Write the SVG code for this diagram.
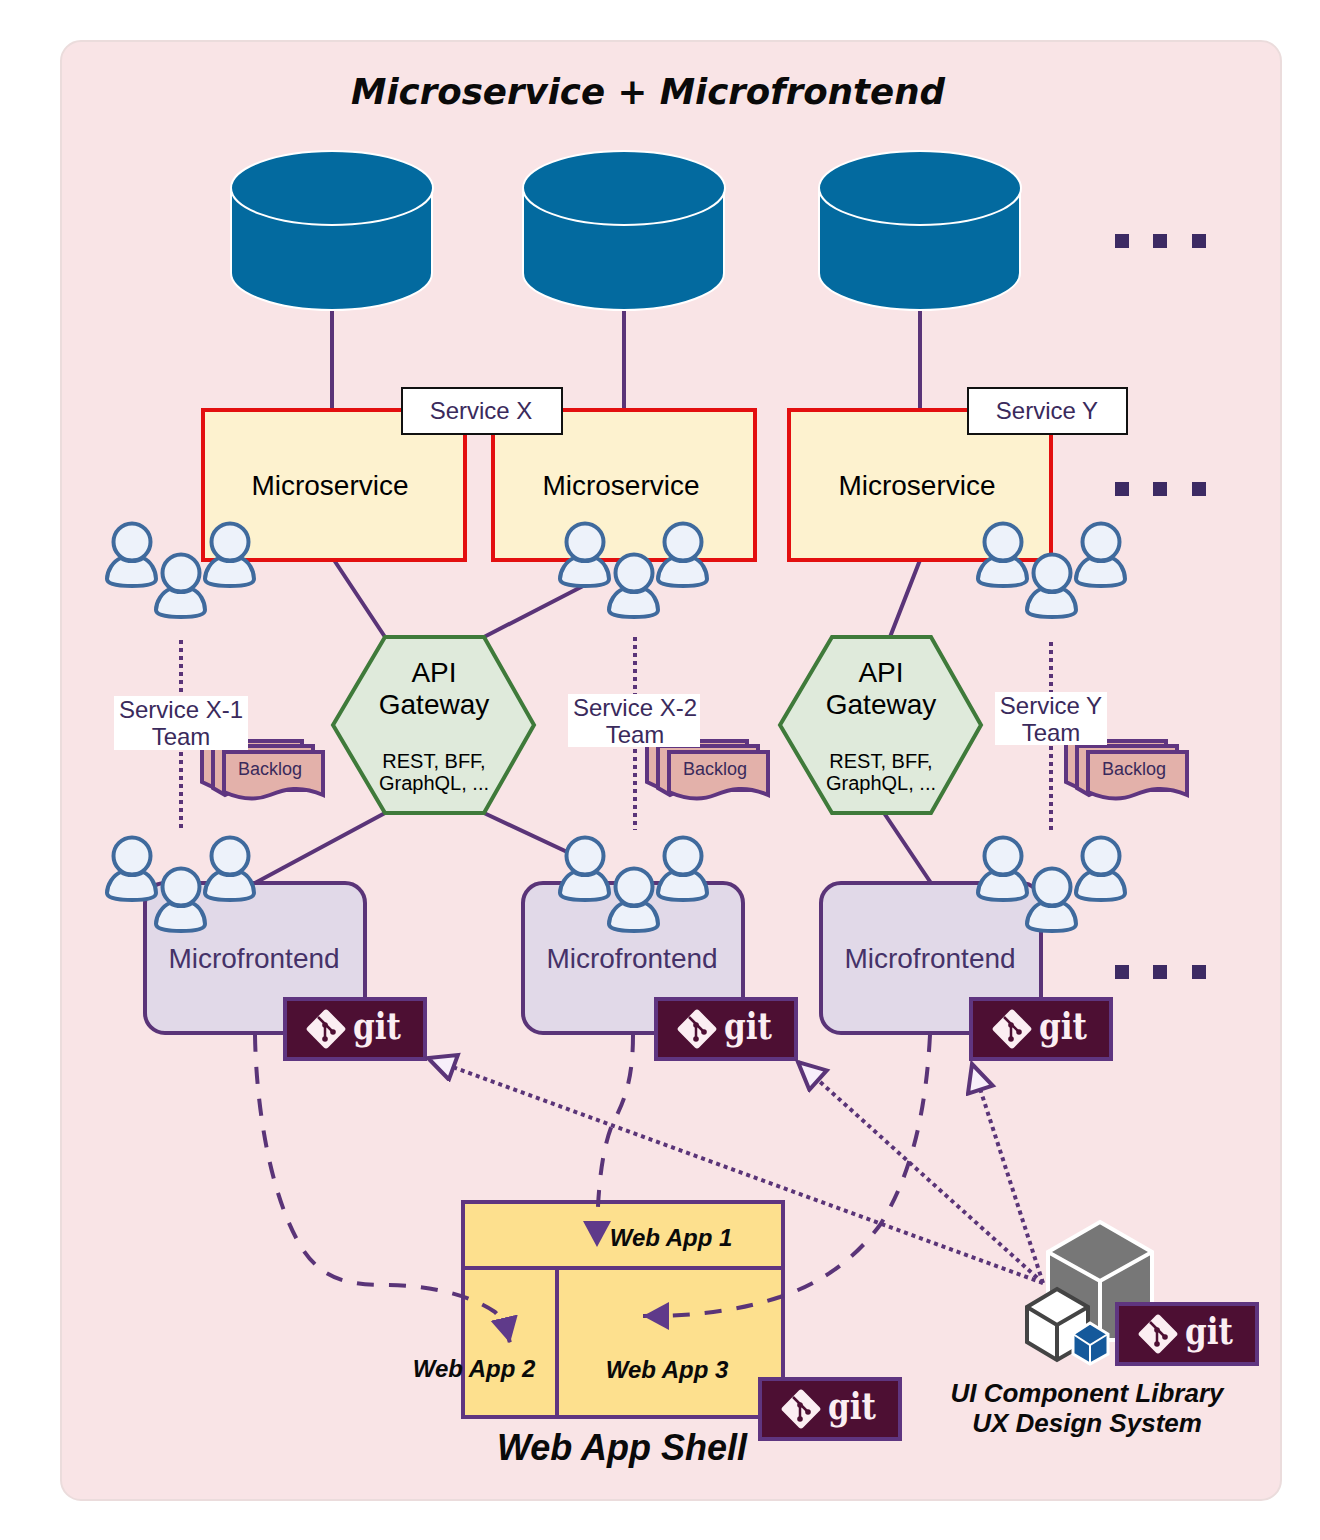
<svg xmlns="http://www.w3.org/2000/svg" xmlns:xlink="http://www.w3.org/1999/xlink" width="1320" height="1540" viewBox="0 0 1320 1540">
<style>
text{font-family:"Liberation Sans",Arial,sans-serif;text-anchor:middle}
.link{fill:none;stroke:#5a3478;stroke-width:4}
.dash{fill:none;stroke:#5a3478;stroke-width:4;stroke-dasharray:17 15}
.dot{fill:none;stroke:#5a3478;stroke-width:4;stroke-dasharray:4 4}
.db{fill:#036a9f;stroke:#fff;stroke-width:2}
.ms{fill:#fdf2cf;stroke:#e30f0f;stroke-width:4}
.tag{fill:#fff;stroke:#111;stroke-width:2}
.hex{fill:#dfeadb;stroke:#3f7a3a;stroke-width:4}
.mf{fill:#e1d9e8;stroke:#5a3478;stroke-width:4}
.gitbox{fill:#4d0f33;stroke:#5f3580;stroke-width:4}
.gittext{font-family:"DejaVu Serif",serif;font-weight:700;font-size:37px;fill:#fbeef2;text-anchor:start}
.web{fill:#fde08e;stroke:#5f3580;stroke-width:4}
.bi{font-weight:700;font-style:italic;fill:#0a0a0a}
.sq{fill:#3d2a63}
.p{fill:#edf2fa;stroke:#3f6a9d;stroke-width:4}
.doc{fill:#e3b1aa;stroke:#5f3580;stroke-width:4}
</style>
<defs>
<marker id="solid" markerUnits="userSpaceOnUse" markerWidth="32" markerHeight="32" refX="26" refY="15" orient="auto"><path d="M0 1L26 15L0 29Z" fill="#5f3a8a"/></marker>
<marker id="open" markerUnits="userSpaceOnUse" markerWidth="36" markerHeight="36" refX="30" refY="15" orient="auto"><path d="M3 2L30 15L3 28Z" fill="#f7effa" stroke="#5a3478" stroke-width="4"/></marker>
<g id="person"><circle cx="0" cy="0" r="18.500" class="p"/><path class="p" d="M-11 16C-19 19-25 29-25 37C-25 43-10 44 0 44C10 44 24 43 24 37C24 29 19 19 11 16C5 20-5 20-11 16Z"/></g>
<g id="team"><use href="#person" x="0" y="0"/><use href="#person" x="98" y="0"/><use href="#person" x="49" y="31"/></g>
<g id="stack">
<path class="doc" d="M202 741H302V785H225L215 788L202 782Z"/><path class="doc" d="M213 746H313V790H236L225 795L213 788Z"/>
<path class="doc" d="M224 752H323V795C300 785 285 789 270 795C255 801 240 799 224 792Z"/>
</g>
<g id="logo"><rect x="-14.500" y="-14.500" width="29" height="29" rx="3" transform="rotate(45)" fill="#fbeef2"/><path d="M-8 -12L7 3M-1 -4V10" fill="none" stroke="#4d0f33" stroke-width="2.500"/><circle cx="-1" cy="-4" r="2.800" fill="#4d0f33"/><circle cx="7" cy="3" r="2.800" fill="#4d0f33"/><circle cx="-1" cy="10" r="2.800" fill="#4d0f33"/></g>
</defs>
<rect id="panel" x="61" y="41" width="1220" height="1459" rx="20" fill="#f9e4e6" stroke="#ebdcdc" stroke-width="2"/>
<text id="title" x="648" y="104" class="bi" style="font-family:'DejaVu Sans',sans-serif;font-size:36px" textLength="594" lengthAdjust="spacingAndGlyphs">Microservice + Microfrontend</text>

<g id="connectors-back">
<path class="link" d="M332 310V410M624 310V410M920 310V410"/>
<path class="link" d="M334 560L385 637M585 585L484 637M920 560L890 637M385 813L255 883M484 813L595 865M884 813L931 883"/>
<path class="dot" d="M181 640V832M635 637V830M1051 642V832"/>
</g>

<g id="db1"><path class="db" d="M231 188V273C231 293 276 310 332 310C387 310 432 293 432 273V188Z"/><ellipse class="db" cx="332" cy="188" rx="101" ry="37"/></g>
<g id="db2"><path class="db" d="M523 188V273C523 293 568 310 624 310C679 310 724 293 724 273V188Z"/><ellipse class="db" cx="624" cy="188" rx="101" ry="37"/></g>
<g id="db3"><path class="db" d="M819 188V273C819 293 864 310 920 310C975 310 1020 293 1020 273V188Z"/><ellipse class="db" cx="920" cy="188" rx="101" ry="37"/></g>

<g id="ms1"><rect class="ms" x="203" y="410" width="262" height="150"/><text x="330" y="495" font-size="28">Microservice</text></g>
<g id="ms2"><rect class="ms" x="493" y="410" width="262" height="150"/><text x="621" y="495" font-size="28">Microservice</text></g>
<g id="ms3"><rect class="ms" x="789" y="410" width="262" height="150"/><text x="917" y="495" font-size="28">Microservice</text></g>
<g id="tagX"><rect class="tag" x="402" y="388" width="160" height="46"/><text x="481" y="419" font-size="24" fill="#3a2a5c">Service X</text></g>
<g id="tagY"><rect class="tag" x="968" y="388" width="159" height="46"/><text x="1047" y="419" font-size="24" fill="#3a2a5c">Service Y</text></g>

<g id="gw1"><path class="hex" d="M385 637H484L534 725L484 813H385L333 725Z"/><text x="434" y="682" font-size="28">API</text><text x="434" y="714" font-size="28">Gateway</text><text x="434" y="768" font-size="20">REST, BFF,</text><text x="434" y="790" font-size="20">GraphQL, ...</text></g>
<g id="gw2"><path class="hex" d="M832 637H931L981 725L931 813H832L780 725Z"/><text x="881" y="682" font-size="28">API</text><text x="881" y="714" font-size="28">Gateway</text><text x="881" y="768" font-size="20">REST, BFF,</text><text x="881" y="790" font-size="20">GraphQL, ...</text></g>

<g id="backlog1"><use href="#stack"/><text x="270" y="775" font-size="18" fill="#3a2a5c">Backlog</text></g>
<g id="backlog2"><use href="#stack" x="445"/><text x="715" y="775" font-size="18" fill="#3a2a5c">Backlog</text></g>
<g id="backlog3"><use href="#stack" x="864"/><text x="1134" y="775" font-size="18" fill="#3a2a5c">Backlog</text></g>

<g id="teamLabel1"><rect x="114" y="696" width="134" height="54" fill="#fff"/><text x="181" y="718" font-size="24" fill="#3a2a5c">Service X-1</text><text x="181" y="745" font-size="24" fill="#3a2a5c">Team</text></g>
<g id="teamLabel2"><rect x="568" y="694" width="132" height="53" fill="#fff"/><text x="635" y="716" font-size="24" fill="#3a2a5c">Service X-2</text><text x="635" y="743" font-size="24" fill="#3a2a5c">Team</text></g>
<g id="teamLabel3"><rect x="995" y="692" width="112" height="53" fill="#fff"/><text x="1051" y="714" font-size="24" fill="#3a2a5c">Service Y</text><text x="1051" y="741" font-size="24" fill="#3a2a5c">Team</text></g>

<g id="mf1"><rect class="mf" x="145" y="883" width="220" height="150" rx="20"/><text x="254" y="968" font-size="28" fill="#453268">Microfrontend</text></g>
<g id="mf2"><rect class="mf" x="523" y="883" width="220" height="150" rx="20"/><text x="632" y="968" font-size="28" fill="#453268">Microfrontend</text></g>
<g id="mf3"><rect class="mf" x="821" y="883" width="220" height="150" rx="20"/><text x="930" y="968" font-size="28" fill="#453268">Microfrontend</text></g>

<g id="teams">
<use href="#team" x="132" y="542"/><use href="#team" x="585" y="542"/><use href="#team" x="1003" y="542"/>
<use href="#team" x="132" y="856"/><use href="#team" x="585" y="856"/><use href="#team" x="1003" y="856"/>
</g>

<g id="shell">
<rect class="web" x="463" y="1202" width="320" height="215"/>
<path class="web" d="M463 1268H783M557 1268V1417"/>
<text x="671" y="1246" font-size="24" class="bi">Web App 1</text>
<text x="474" y="1377" font-size="24" class="bi">Web App 2</text>
<text x="667" y="1378" font-size="24" class="bi">Web App 3</text>
<text x="622" y="1460" font-size="36" class="bi">Web App Shell</text>
</g>

<g id="library">
<path d="M1100 1222L1152 1252V1340H1048V1252Z" fill="#777" stroke="#fff" stroke-width="4"/>
<path d="M1048 1252L1100 1281L1152 1252M1100 1281V1340" fill="none" stroke="#fff" stroke-width="4"/>
<path d="M1057 1289L1088 1307V1342L1057 1360L1027 1342V1307Z" fill="#fff" stroke="#444" stroke-width="4"/>
<path d="M1027 1307L1057 1325L1088 1307M1057 1325V1360" fill="none" stroke="#444" stroke-width="4"/>
<path d="M1090 1323L1108 1334V1354L1090 1364L1073 1354V1334Z" fill="#15599b" stroke="#fff" stroke-width="3"/>
<path d="M1073 1334L1090 1345L1108 1334M1090 1345V1364" fill="none" stroke="#fff" stroke-width="2"/>
<text x="1087" y="1402" font-size="26" class="bi">UI Component Library</text>
<text x="1087" y="1432" font-size="26" class="bi">UX Design System</text>
</g>

<g id="git1"><rect class="gitbox" x="285" y="999" width="140" height="60"/><use href="#logo" x="326" y="1029"/><text class="gittext" x="353" y="1039" textLength="48" lengthAdjust="spacingAndGlyphs">git</text></g>
<g id="git2"><rect class="gitbox" x="656" y="999" width="140" height="60"/><use href="#logo" x="697" y="1029"/><text class="gittext" x="724" y="1039" textLength="48" lengthAdjust="spacingAndGlyphs">git</text></g>
<g id="git3"><rect class="gitbox" x="971" y="999" width="140" height="60"/><use href="#logo" x="1012" y="1029"/><text class="gittext" x="1039" y="1039" textLength="48" lengthAdjust="spacingAndGlyphs">git</text></g>
<g id="git4"><rect class="gitbox" x="1117" y="1304" width="140" height="60"/><use href="#logo" x="1158" y="1334"/><text class="gittext" x="1185" y="1344" textLength="48" lengthAdjust="spacingAndGlyphs">git</text></g>
<g id="git5"><rect class="gitbox" x="760" y="1379" width="140" height="60"/><use href="#logo" x="801" y="1409"/><text class="gittext" x="828" y="1419" textLength="48" lengthAdjust="spacingAndGlyphs">git</text></g>

<g id="connectors">
<path class="dash" d="M255 1035C256 1100 268 1190 300 1245C320 1278 345 1285 385 1285C430 1285 470 1295 495 1312C503 1320 507 1330 510 1343" marker-end="url(#solid)"/>
<path class="dash" d="M633 1035C633 1085 622 1105 612 1125C602 1150 597 1190 597 1247" marker-end="url(#solid)"/>
<path class="dash" d="M930 1035C925 1130 905 1185 880 1225C850 1265 815 1285 780 1297C740 1310 700 1316 643 1316" marker-end="url(#solid)"/>
<path class="dot" d="M1043 1283L428 1058" marker-end="url(#open)"/>
<path class="dot" d="M1043 1283L798 1062" marker-end="url(#open)"/>
<path class="dot" d="M1043 1283L972 1064" marker-end="url(#open)"/>
</g>

<g id="more" class="sq">
<rect x="1115" y="234" width="14" height="14"/><rect x="1153" y="234" width="14" height="14"/><rect x="1192" y="234" width="14" height="14"/>
<rect x="1115" y="482" width="14" height="14"/><rect x="1153" y="482" width="14" height="14"/><rect x="1192" y="482" width="14" height="14"/>
<rect x="1115" y="965" width="14" height="14"/><rect x="1153" y="965" width="14" height="14"/><rect x="1192" y="965" width="14" height="14"/>
</g>
</svg>
